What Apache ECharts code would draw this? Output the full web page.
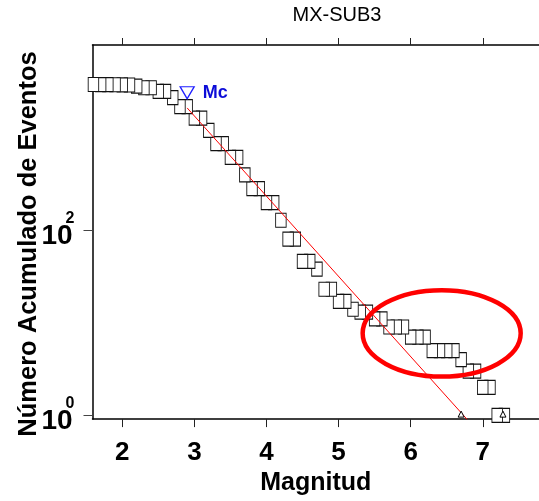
<!DOCTYPE html>
<html><head><meta charset="utf-8">
<script src="https://cdn.jsdelivr.net/npm/echarts@6/dist/echarts.min.js"></script>
<style>html,body{margin:0;padding:0;background:#fff}#c{width:539px;height:501px}</style>
</head><body><div id="c"></div>
<script>
// ---- data ----
const magnitudes = [1.6,1.7,1.8,1.9,2.0,2.1,2.2,2.3,2.4,2.5,2.6,2.7,2.8,2.9,3.0,3.1,3.2,3.3,3.4,3.5,3.6,3.7,3.8,3.9,4.0,4.1,4.2,4.3,4.4,4.5,4.6,4.7,4.8,4.9,5.0,5.1,5.2,5.3,5.4,5.5,5.6,5.7,5.8,5.9,6.0,6.1,6.2,6.3,6.4,6.5,6.6,6.7,6.8,6.9,7.0,7.1,7.2,7.3];
const cumulativeCounts = [3740,3735,3730,3725,3715,3700,3590,3457,3457,3155,3155,2698,2157,2157,1621,1621,1197,860,860,610,610,395,281,281,198,198,128,80,80,46,46,38,23,23,17,17,14,13,13,11,11,9,9,9,7,7,7,5,5,5,5,4,3,3,2,2,1,1];
const xTickValues = [2,3,4,5,6,7];
const yTickValues = [1,100];
const yTickExponents = {1:'0',100:'2'};
const mcPoint = [2.9, 3050];
const fitLineMag = [2.9, 6.785];
const fitLineCount = [2090, 0.9];
const endMarkMag = [6.7, 7.28];
const endMarkCount = [1.03, 1.03];
const ellipseCenter = [6.43, 7.69];
const ellipseMagSpan = [5.334, 7.526];
const ellipseCountSpan = [2.62, 22.5];
const titleText = 'MX-SUB3';
const xName = 'Magnitud';
const yName = 'Número Acumulado de Eventos';

const FONT = "Arial, 'Liberation Sans', Helvetica, sans-serif";
const chart = echarts.init(document.getElementById('c'));

const squareData = magnitudes.map((m,i)=>[m, cumulativeCounts[i]]).reverse();
const fitData = fitLineMag.map((m,i)=>[m, fitLineCount[i]]);
const endData = endMarkMag.map((m,i)=>[m, endMarkCount[i]]);

const xMin = 1.587, xMax = 7.78;

chart.setOption({
  animation: false,
  backgroundColor: '#fff',
  grid: {left: 92.5, right: 0, top: 45, bottom: 80.5, containLabel: false},
  xAxis: [{
    type: 'value', min: xMin, max: xMax, position: 'bottom',
    splitLine: {show: false},
    axisLine: {show: true, onZero: false, lineStyle: {color: '#000', width: 1.5}},
    axisTick: {show: true, length: 8, customValues: xTickValues, lineStyle: {color: '#222', width: 1}},
    axisLabel: {show: true, customValues: xTickValues, margin: 21, fontSize: 26, fontWeight: 'bold', color: '#000', fontFamily: FONT},
    name: xName, nameLocation: 'middle', nameGap: 51,
    nameTextStyle: {fontSize: 25, fontWeight: 'bold', color: '#000', fontFamily: FONT}
  }, {
    type: 'value', min: xMin, max: xMax, position: 'top',
    splitLine: {show: false},
    axisLine: {show: true, onZero: false, lineStyle: {color: '#000', width: 1.5}},
    axisTick: {show: true, length: 7, customValues: xTickValues, lineStyle: {color: '#222', width: 1}},
    axisLabel: {show: false}
  }],
  yAxis: [{
    type: 'log', logBase: 10, min: 0.91, max: 10000,
    splitLine: {show: false},
    axisLine: {show: true, onZero: false, lineStyle: {color: '#000', width: 1.5}},
    axisTick: {show: true, length: 9, customValues: yTickValues, lineStyle: {color: '#444', width: 1}},
    axisLabel: {
      show: true, customValues: yTickValues, margin: 18,
      formatter: function(v){ const e = yTickExponents[Math.round(v)]; return e === undefined ? '' : '{b|10}{s|' + e + '}'; },
      rich: {
        b: {fontSize: 28, fontWeight: 'bold', color: '#000', fontFamily: FONT, verticalAlign: 'bottom', lineHeight: 40},
        s: {fontSize: 16, fontWeight: 'bold', color: '#000', fontFamily: FONT, verticalAlign: 'top', padding: [0,0,0,-7], lineHeight: 20}
      }
    }
  }],
  series: [{
    type: 'scatter', name: 'counts', data: squareData,
    symbol: 'rect', symbolSize: [10.5, 14],
    itemStyle: {color: '#fff', borderColor: '#111', borderWidth: 1, opacity: 1},
    z: 2
  }, {
    type: 'line', name: 'fit', data: fitData, showSymbol: false, clip: true,
    lineStyle: {color: '#ff0000', width: 1}, z: 3
  }, {
    type: 'scatter', name: 'ends', data: endData,
    symbol: 'triangle', symbolSize: [6, 6],
    itemStyle: {color: '#fff', borderColor: '#000', borderWidth: 1, opacity: 1}, z: 4
  }, {
    type: 'scatter', name: 'Mc', data: [mcPoint],
    symbol: 'triangle', symbolRotate: 180, symbolSize: [14, 12],
    itemStyle: {color: '#fff', borderColor: '#1f1fff', borderWidth: 1.3, opacity: 1},
    label: {show: true, formatter: 'Mc', position: 'right', distance: 8, color: '#0c0cd8', fontSize: 18, fontWeight: 'bold', fontFamily: FONT, textBorderWidth: 0},
    z: 5
  }]
});

const pL = chart.convertToPixel({xAxisIndex: 0, yAxisIndex: 0}, [ellipseMagSpan[0], ellipseCenter[1]]);
const pR = chart.convertToPixel({xAxisIndex: 0, yAxisIndex: 0}, [ellipseMagSpan[1], ellipseCenter[1]]);
const pB = chart.convertToPixel({xAxisIndex: 0, yAxisIndex: 0}, [ellipseCenter[0], ellipseCountSpan[0]]);
const pT = chart.convertToPixel({xAxisIndex: 0, yAxisIndex: 0}, [ellipseCenter[0], ellipseCountSpan[1]]);

chart.setOption({
  graphic: [{
    type: 'ellipse', id: 'ell', z: 100,
    shape: {cx: (pL[0]+pR[0])/2, cy: (pT[1]+pB[1])/2, rx: (pR[0]-pL[0])/2, ry: (pB[1]-pT[1])/2},
    style: {fill: 'none', stroke: '#ff0000', lineWidth: 4.5}
  }, {
    type: 'text', id: 'title', x: 337, y: 15, z: 100,
    style: {text: titleText, fontSize: 20, fontFamily: FONT, fill: '#000', align: 'center', verticalAlign: 'middle', textAlign: 'center', textVerticalAlign: 'middle'}
  }, {
    type: 'text', id: 'yname', x: 29, y: 244, rotation: Math.PI/2, z: 100,
    style: {text: yName, fontSize: 25.5, fontWeight: 'bold', fontFamily: FONT, fill: '#000', align: 'center', verticalAlign: 'middle', textAlign: 'center', textVerticalAlign: 'middle'}
  }]
});
</script>
</body></html>
